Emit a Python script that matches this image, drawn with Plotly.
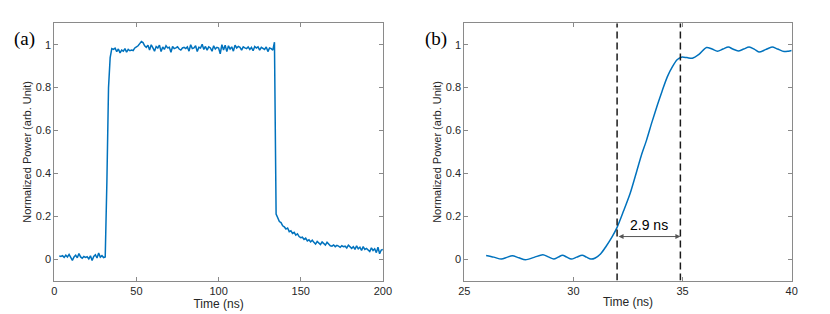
import plotly.graph_objects as go

# ---------------- data ----------------
# panel (a): full pulse, sampled every 1 ns from 3 ns
power_a = [
    0.015, 0.012, 0.016, 0.008, 0.018, 0.010, 0.022, 0.004, -0.006, 0.010,
    0.018, 0.006, 0.026, 0.010, 0.004, 0.012, 0.008, 0.011, 0.001, 0.015,
    -0.007, 0.012, 0.020, 0.005, 0.028, 0.009, 0.016, 0.007, 0.010,
    0.36, 0.80, 0.94,
    0.982, 0.978, 0.984, 0.968, 0.980, 0.962, 0.975, 0.970, 0.982, 0.965,
    0.978, 0.972, 0.975, 0.973, 0.985, 0.990,
    0.995, 1.005, 1.015, 1.010, 0.995, 0.988, 0.998, 0.975, 1.000, 0.985,
    0.970, 0.992, 0.985, 0.998, 0.968, 0.990, 0.978, 0.995, 0.985, 0.988,
    0.965, 0.992, 0.982, 0.985, 0.990, 0.980, 0.975, 0.985, 0.988, 0.982,
    0.990, 0.970, 1.000, 0.982, 0.985, 0.995, 0.968, 0.988, 0.985, 1.002,
    0.978, 0.992, 0.975, 0.990, 0.985, 0.970, 0.995, 0.980, 0.988, 0.985,
    0.958, 1.000, 0.975, 0.998, 0.968, 0.995, 0.980, 0.990, 0.970, 0.998,
    0.985, 0.992, 0.988, 0.975, 0.990, 0.985, 0.982, 0.990, 0.978, 0.988,
    0.972, 0.992, 0.985, 0.990, 0.975, 0.988, 0.982, 0.978, 0.990, 0.968,
    0.985, 0.982, 0.975, 1.012,
    0.21,
    0.190, 0.175, 0.170, 0.155, 0.150, 0.140, 0.145, 0.128, 0.132, 0.120,
    0.125, 0.112, 0.118, 0.105, 0.100,
    0.102, 0.092, 0.098, 0.085, 0.090, 0.080, 0.088, 0.078, 0.070, 0.082,
    0.075, 0.068, 0.080, 0.072, 0.065, 0.078, 0.070, 0.062, 0.060, 0.066,
    0.058, 0.064, 0.060, 0.055, 0.062, 0.058, 0.060, 0.052, 0.065, 0.056,
    0.050, 0.058, 0.045, 0.062, 0.048, 0.055, 0.040, 0.058, 0.045, 0.050,
    0.042, 0.035, 0.052, 0.040, 0.048, 0.030, 0.055, 0.025, 0.042, 0.045,
]
time_a = [3 + i for i in range(len(power_a))]

# panel (b): rising edge zoom
time_b = [
    26.0, 26.35, 26.7, 26.95, 27.2, 27.5, 27.8, 28.2, 28.6, 28.85,
    29.1, 29.3, 29.5, 29.7, 29.9, 30.15, 30.4, 30.6, 30.8, 31.0,
    31.25, 31.5, 31.75, 32.0, 32.3, 32.6, 32.9, 33.1, 33.35, 33.6,
    33.85, 34.05, 34.3, 34.55, 34.75, 34.95, 35.2, 35.45, 35.75, 36.1,
    36.35, 36.6, 36.85, 37.1, 37.3, 37.55, 37.8, 38.05, 38.3, 38.5,
    38.8, 39.1, 39.35, 39.65, 39.85, 40.0,
]
power_b = [
    0.017, 0.009, 0.000, 0.008, 0.015, 0.006, -0.003, 0.008, 0.020, 0.010,
    0.000, 0.009, 0.018, 0.009, 0.000, 0.009, 0.018, 0.009, 0.000, 0.005,
    0.025, 0.060, 0.100, 0.148, 0.225, 0.307, 0.410, 0.480, 0.555, 0.640,
    0.720, 0.780, 0.850, 0.900, 0.930, 0.942, 0.940, 0.937, 0.955, 0.987,
    0.980, 0.970, 0.980, 0.989, 0.980, 0.971, 0.980, 0.989, 0.978, 0.966,
    0.977, 0.989, 0.980, 0.968, 0.970, 0.973,
]

rise_start = 32.0
rise_end = 34.9
rise_label = "2.9 ns"

x_ticks_a = [0, 50, 100, 150, 200]
x_ticks_b = [25, 30, 35, 40]
y_ticks = [0, 0.2, 0.4, 0.6, 0.8, 1]
y_tick_text = ["0", "0.2", "0.4", "0.6", "0.8", "1"]

# ---------------- figure ----------------
# the page body has an 8px margin, so the figure is drawn 8px smaller and
# all page-pixel positions are shifted by 8px.
OFF = 8
W, H = 830 - OFF, 314 - OFF
BLUE = "#0072BD"
AX = "#8a8a8a"
TXT = "#262626"
FONT = "Liberation Sans, Arial, Helvetica, sans-serif"


def px(x):
    return (x - OFF) / W


def py(y):
    return 1 - (y - OFF) / H


fig = go.Figure()
fig.add_trace(go.Scatter(x=time_a, y=power_a, mode="lines",
                         line=dict(color=BLUE, width=1.5),
                         xaxis="x", yaxis="y", showlegend=False))
fig.add_trace(go.Scatter(x=time_b, y=power_b, mode="lines",
                         line=dict(color=BLUE, width=1.5, shape="spline", smoothing=0.8),
                         xaxis="x2", yaxis="y2", showlegend=False))

common_axis = dict(showline=True, linecolor=AX, linewidth=1, mirror="ticks",
                   ticks="inside", ticklen=4, tickcolor=AX, tickwidth=1,
                   showgrid=False, zeroline=False, automargin=False,
                   tickfont=dict(family=FONT, size=11, color=TXT))

fig.update_layout(
    width=W, height=H,
    margin=dict(l=0, r=0, t=0, b=0),
    paper_bgcolor="white", plot_bgcolor="white",
    xaxis=dict(domain=[px(54.3), px(382.9)], range=[0, 200], anchor="y",
               tickvals=x_ticks_a,
               title=dict(text="Time (ns)", standoff=1,
                          font=dict(family=FONT, size=12, color=TXT)),
               **common_axis),
    yaxis=dict(domain=[py(280.5), py(23.3)], range=[-0.1, 1.1], anchor="x",
               tickvals=y_ticks, ticktext=y_tick_text,
               title=dict(text="Normalized Power (arb. Unit)", standoff=1,
                          font=dict(family=FONT, size=11, color=TXT)),
               **common_axis),
    xaxis2=dict(domain=[px(464.3), px(791.7)], range=[25, 40], anchor="y2",
                tickvals=x_ticks_b,
                title=dict(text="Time (ns)", standoff=1,
                           font=dict(family=FONT, size=12, color=TXT)),
                **common_axis),
    yaxis2=dict(domain=[py(280.5), py(23.3)], range=[-0.1, 1.1], anchor="x2",
                tickvals=y_ticks, ticktext=y_tick_text,
                title=dict(text="Normalized Power (arb. Unit)", standoff=1,
                           font=dict(family=FONT, size=11, color=TXT)),
                **common_axis),
)

for xv in (rise_start, rise_end):
    fig.add_shape(type="line", xref="x2", yref="y2", x0=xv, x1=xv, y0=-0.1, y1=1.1,
                  line=dict(color="#1a1a1a", width=1.5, dash="7px,4px"))

fig.add_annotation(xref="x2", yref="y2", axref="x2", ayref="y2",
                   x=rise_end, y=0.105, ax=rise_start, ay=0.105,
                   text="", showarrow=True, arrowside="end+start",
                   arrowhead=2, arrowsize=1, arrowwidth=1, arrowcolor="#555555",
                   standoff=0, startstandoff=0)
fig.add_annotation(xref="x2", yref="y2", x=(rise_start + rise_end) / 2, y=0.16,
                   text=rise_label, showarrow=False,
                   font=dict(family=FONT, size=14, color="#000000"))

for lbl, xp in (("(a)", 24.5), ("(b)", 435.5)):
    fig.add_annotation(xref="paper", yref="paper", x=px(xp), y=py(39),
                       text=lbl, showarrow=False, xanchor="center", yanchor="middle",
                       font=dict(family="Liberation Serif, Times New Roman, serif",
                                 size=19, color="#000000"))

fig.write_html("out.html")
